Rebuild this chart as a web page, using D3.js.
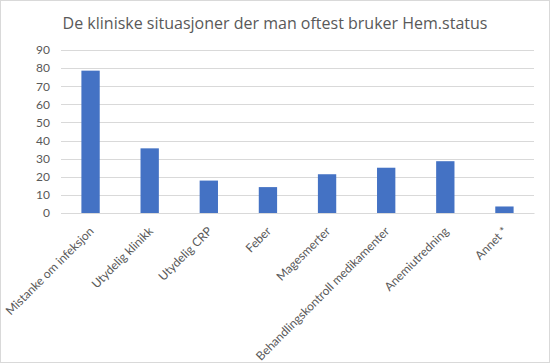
<!DOCTYPE html>
<html>
<head>
<meta charset="utf-8">
<script src="https://cdn.jsdelivr.net/npm/d3@7"></script>
<style>
  body { margin: 0; background: #fff; }
  svg { display: block; font-family: Lato, "Open Sans", sans-serif; }
</style>
</head>
<body>
<div id="chart"></div>
<script>
// categories and values (percent of answers)
var categories = ['Mistanke om infeksjon', 'Utydelig klinikk', 'Utydelig CRP', 'Feber',
  'Magesmerter', 'Behandlingskontroll medikamenter', 'Anemiutredning', 'Annet *'];
var values = [78.6, 35.7, 17.9, 14.3, 21.4, 25.0, 28.6, 3.6];
var yTicks = [0, 10, 20, 30, 40, 50, 60, 70, 80, 90];
var title = 'De kliniske situasjoner der man oftest bruker Hem.status';

var svgWidth = 550;
var svgHeight = 363;
var margin = { top: 50, right: 16, bottom: 150, left: 61 };
var width = svgWidth - margin.left - margin.right;
var height = 213 - margin.top;

var svg = d3.select('#chart')
  .append('svg')
  .attr('width', svgWidth)
  .attr('height', svgHeight);

// outer border
svg.append('rect')
  .attr('x', 0.5).attr('y', 0.5)
  .attr('width', svgWidth - 1).attr('height', svgHeight - 1)
  .attr('fill', '#fff')
  .attr('stroke', '#d9d9d9');

svg.append('text')
  .attr('x', 275)
  .attr('y', 29)
  .attr('text-anchor', 'middle')
  .attr('fill', '#595959')
  .style('font-family', '"Open Sans", sans-serif')
  .style('font-size', '16px')
  .text(title);

var g = svg.append('g')
  .attr('transform', `translate(${margin.left}, ${margin.top})`);

var xScale = d3.scaleBand()
  .domain(categories)
  .range([0, width])
  .paddingInner(0.69)
  .paddingOuter(0.345);

var yScale = d3.scaleLinear()
  .domain([0, 90])
  .range([height, 0]);

// gridlines
g.append('g')
  .selectAll('line')
  .data(yTicks)
  .join('line')
  .attr('x1', 0)
  .attr('x2', width)
  .attr('y1', d => Math.round(yScale(d)) + 0.5)
  .attr('y2', d => Math.round(yScale(d)) + 0.5)
  .attr('stroke', '#d9d9d9')
  .attr('stroke-width', 1);

// y axis labels
var yAxis = g.append('g')
  .call(d3.axisLeft(yScale).tickValues(yTicks).tickSize(0).tickPadding(11));
yAxis.select('.domain').remove();
yAxis.selectAll('text')
  .attr('fill', '#595959')
  .style('font-size', '12px')
  .style('font-family', 'Lato, sans-serif');

// bars
g.selectAll('rect.bar')
  .data(values)
  .join('rect')
  .attr('class', 'bar')
  .attr('x', (d, i) => xScale(categories[i]))
  .attr('width', xScale.bandwidth())
  .attr('y', d => yScale(d))
  .attr('height', d => height - yScale(d))
  .attr('fill', '#4472c4');

// x axis
var xAxis = g.append('g')
  .attr('transform', `translate(0, ${height})`)
  .call(d3.axisBottom(xScale).tickSize(0).tickPadding(0));
xAxis.select('.domain').attr('stroke', '#d9d9d9');
xAxis.selectAll('text')
  .attr('fill', '#595959')
  .style('font-size', '12px')
  .style('font-family', 'Lato, sans-serif')
  .attr('text-anchor', 'end')
  .attr('dy', 0)
  .attr('transform', 'translate(4, 19) rotate(-45)');
</script>
</body>
</html>
